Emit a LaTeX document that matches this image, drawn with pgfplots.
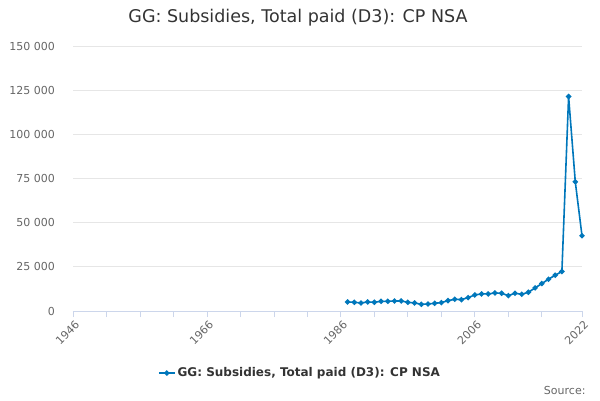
\documentclass[border=0pt]{standalone}
\usepackage{pgfplots}
\pgfplotsset{compat=1.18}
\usepackage{fontspec}
\setmainfont{DejaVu Sans}
\definecolor{ser}{HTML}{0077BB}
\definecolor{gridc}{HTML}{E6E6E6}
\definecolor{axc}{HTML}{CCD6EB}
\definecolor{lab}{HTML}{666666}
\definecolor{ttl}{HTML}{333333}
\begin{document}
\begin{tikzpicture}[x=1pt,y=1pt]
\path[use as bounding box] (0,0) rectangle (600,400);
\node[text=ttl,font=\fontsize{17.5}{20}\selectfont] at (298,382) {GG: Subsidies, Total paid (D3): CP NSA};
\node[text=lab,font=\fontsize{11}{13}\selectfont,anchor=east] at (589,10) {Source:};
\begin{axis}[
  at={(73pt,89pt)}, anchor=south west,
  scale only axis, width=509pt, height=265pt,
  xmin=1946, xmax=2022, ymin=0, ymax=150000,
  scaled y ticks=false,
  axis lines*=left,
  axis line style={draw=none},
  y axis line style={draw=none},
  x axis line style={draw=axc, line width=1pt},
  xtick={1946,1966,1986,2006,2022},
  xticklabels={1946,1966,1986,2006,2022},
  minor xtick={1951,1956,1961,1971,1976,1981,1991,1996,2001,2011,2016},
  xtick pos=bottom,
  xtick style={draw=axc, line width=0.8pt},
  major tick length=6pt, minor tick length=6pt,
  tick align=outside,
  x tick label style={rotate=45, anchor=north east, font=\fontsize{11}{13}\selectfont, text=lab, inner sep=1pt, yshift=-2pt},
  ytick={0,25000,50000,75000,100000,125000,150000},
  yticklabels={0,25 000,50 000,75 000,100 000,125 000,150 000},
  y tick label style={font=\fontsize{11}{13}\selectfont, text=lab, inner sep=0pt, xshift=-12pt},
  ytick style={draw=none},
  ymajorgrids, grid style={gridc, line width=0.8pt},
  clip=false,
  legend style={at={(0.446,-0.234)}, anchor=center, draw=none, fill=none,
    font=\fontsize{12}{14}\selectfont\bfseries, text=ttl},
  legend cell align=left,
  legend image code/.code={\draw[ser, line width=1.5pt] (0pt,0pt) -- (16pt,0pt); \fill[ser] (8pt,0pt) circle (1.8pt);},
]
\addplot[ser, line width=1.6pt, mark=*, mark size=1.8pt, mark options={fill=ser,draw=ser}] coordinates {
(1987,5114) (1988,4924) (1989,4545) (1990,5114) (1991,4924) (1992,5492) (1993,5492) (1994,5682) (1995,5682) (1996,4924)
(1997,4545) (1998,3788) (1999,3977) (2000,4356) (2001,4735) (2002,5871) (2003,6629) (2004,6439) (2005,7576) (2006,9091)
(2007,9659) (2008,9659) (2009,10227) (2010,10038) (2011,8712) (2012,10038) (2013,9470) (2014,10606) (2015,13068) (2016,15530)
(2017,17992) (2018,20265) (2019,22348) (2020,121402) (2021,73106) (2022,42614)
};
\addlegendentry{GG: Subsidies, Total paid (D3): CP NSA}
\end{axis}
\end{tikzpicture}
\end{document}
